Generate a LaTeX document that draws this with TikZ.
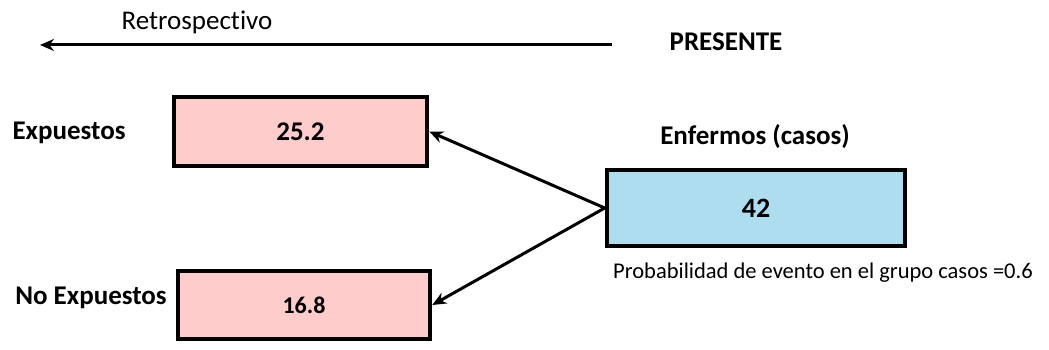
\documentclass[tikz,border=0pt]{standalone}
\usepackage{fontspec}
\setmainfont{Carlito}[Ligatures=NoCommon]
\usepackage{tikz}
\usetikzlibrary{arrows.meta}

\definecolor{rosa}{HTML}{FFCCCC}
\definecolor{celeste}{HTML}{AEDDF0}

\begin{document}
\begin{tikzpicture}[x=1pt,y=1pt,
    caja/.style={draw=black,line width=4.5pt,inner sep=0pt},
    titulo/.style={font=\fontsize{27}{31}\selectfont\bfseries},
    flecha/.style={line width=3pt,-{Stealth[length=14pt,width=12pt]}}
    ]
\useasboundingbox (0,0) rectangle (1049,350);

% eje temporal
\node (presente) [titulo] at (726,308) {PRESENTE};
\coordinate (inicio) at (612,305);
\coordinate (pasado) at (40,305);
\draw[flecha] (inicio) -- (pasado);
\node (retro) [font=\fontsize{27}{31}\selectfont] at (197,328) {Retrospectivo};

% cajas
\node (expuestos) [caja,fill=rosa,minimum width=253pt,minimum height=69pt,titulo] at (300.5,218.5) {25.2};
\node (noexpuestos) [caja,fill=rosa,minimum width=252pt,minimum height=68pt,font=\fontsize{24}{28}\selectfont\bfseries] at (304,45) {16.8};
\node (casos) [caja,fill=celeste,minimum width=298pt,minimum height=76pt,font=\fontsize{28}{32}\selectfont\bfseries] at (756,142) {42};

% etiquetas
\node (lexp) [titulo] at (69,217) {Expuestos};
\node (lnoexp) [titulo] at (91,52) {No Expuestos};
\node (lcasos) [titulo] at (755,213) {Enfermos (casos)};
\node (prob) [font=\fontsize{22.5}{26}\selectfont] at (823,77) {Probabilidad de evento en el grupo casos =0.6};

% flechas hacia atras
\draw[flecha] (casos.west) -- (expuestos.east);
\draw[flecha] (casos.west) -- (noexpuestos.east);
\end{tikzpicture}
\end{document}
